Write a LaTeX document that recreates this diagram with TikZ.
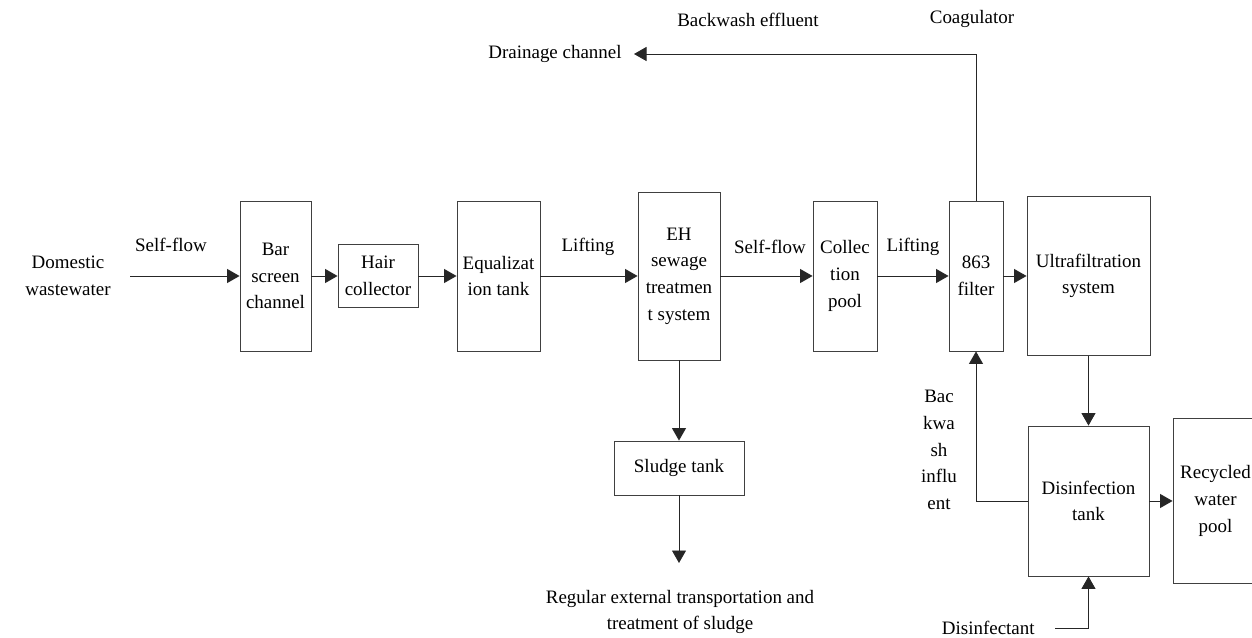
\documentclass[tikz,border=0pt]{standalone}
\usepackage{fontspec}
\setmainfont{Liberation Serif}
\usepackage{tikz}
\usetikzlibrary{arrows.meta}

\begin{document}
\begin{tikzpicture}[x=0.02cm, y=-0.02cm,
            font=\fontsize{10.8}{15.2}\selectfont,
            box/.style={draw=black!75, line width=0.5pt, inner sep=0pt, align=center},
            lbl/.style={inner sep=0pt, align=center},
            flow/.style={draw=black!85, line width=0.5pt, -{Triangle[length=0.25cm, width=0.28cm]}}]
            \useasboundingbox (0,0) rectangle (1252,638);

            \node[box, minimum width=1.42cm, minimum height=3.0cm]  (bar)    at (275.5, 276) {Bar\\screen\\channel};
            \node[box, minimum width=1.6cm,  minimum height=1.26cm] (hair)   at (378, 276)   {Hair\\collector};
            \node[box, minimum width=1.66cm, minimum height=3.0cm]  (equal)  at (498.5, 276) {Equalizat\\ion tank};
            \node[box, minimum width=1.64cm, minimum height=3.36cm] (eh)     at (679, 276)   {EH\\sewage\\treatmen\\t system};
            \node[box, minimum width=1.28cm, minimum height=3.0cm]  (coll)   at (845, 276)   {Collec\\tion\\pool};
            \node[box, minimum width=1.08cm, minimum height=3.0cm]  (filter) at (976, 276)   {863\\filter};
            \node[box, minimum width=2.46cm, minimum height=3.18cm] (ultra)  at (1088.5, 276) {Ultrafiltration\\system};
            \node[box, minimum width=2.42cm, minimum height=3.0cm]  (disinf) at (1088.5, 501) {Disinfection\\tank};
            \node[box, minimum width=1.7cm,  minimum height=3.3cm]  (recyc)  at (1215.5, 501) {Recycled\\water\\pool};
            \node[box, minimum width=2.6cm,  minimum height=1.08cm] (sludge) at (679, 468)   {Sludge tank};

            \node[lbl] (domestic) at (68, 276) {Domestic\\wastewater};
            \node[lbl, anchor=east, inner xsep=0.24cm] (drain) at (634, 54) {Drainage channel};
            \node[lbl, anchor=east, inner xsep=0.4cm] (disfect) at (1055, 628) {Disinfectant};
            \node[lbl] (regular) at (680, 612) {Regular external transportation and\\treatment of sludge};

            \node[lbl] (selfflowa) at (171, 245) {Self-flow};
            \node[lbl] (liftinga)  at (588, 247) {Lifting};
            \node[lbl] (selfflowb) at (770, 247) {Self-flow};
            \node[lbl] (liftingb)  at (913, 247) {Lifting};
            \node[lbl] (effluent)  at (748, 20)  {Backwash effluent};
            \node[lbl] (coag)      at (972, 19)  {Coagulator};
            \node[lbl] (influent)  at (939, 450) {Bac\\kwa\\sh\\influ\\ent};

            \coordinate (inlet) at (130, 276);
            \coordinate (sout) at (679, 563);

            \draw[flow] (inlet) -- (bar.west);
            \draw[flow] (bar.east) -- (hair.west);
            \draw[flow] (hair.east) -- (equal.west);
            \draw[flow] (equal.east) -- (eh.west);
            \draw[flow] (eh.east) -- (coll.west);
            \draw[flow] (coll.east) -- (filter.west);
            \draw[flow] (filter.east) -- (ultra.west);
            \draw[flow] (ultra.south) -- (disinf.north);
            \draw[flow] (disinf.east) -- (recyc.west);
            \draw[flow] (eh.south) -- (sludge.north);
            \draw[flow] (sludge.south) -- (sout);
            \draw[flow] (filter.north) |- (drain.east);
            \draw[flow] (disinf.west) -| (filter.south);
            \draw[flow] (disfect.east) -| (disinf.south);
\end{tikzpicture}
\end{document}
